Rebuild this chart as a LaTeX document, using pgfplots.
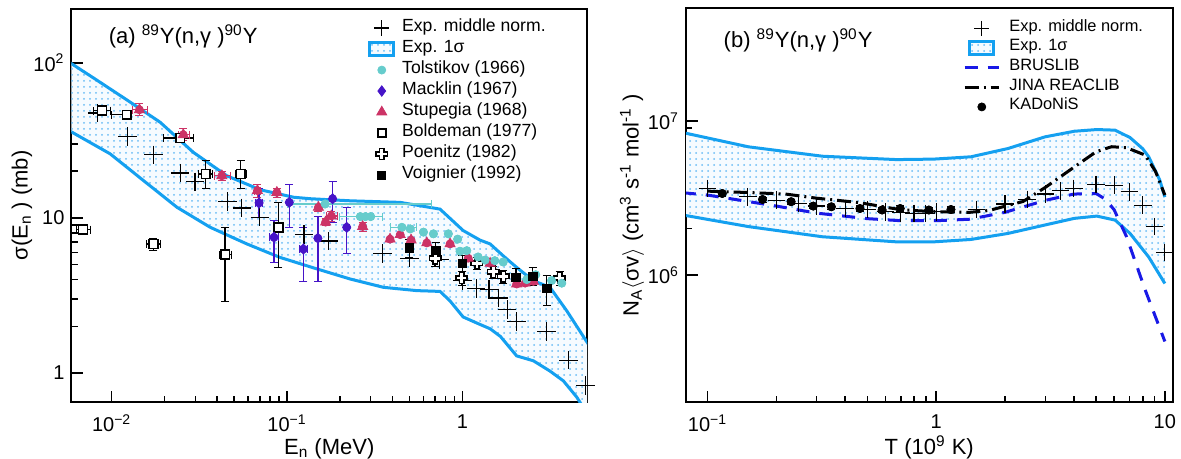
\documentclass[border=0pt]{standalone}
\usepackage{fontspec}
\setmainfont{Liberation Sans}
\usepackage{pgfplots}
\usepackage{pgfplotstable}
\pgfplotsset{compat=1.18}
\usetikzlibrary{patterns}

\definecolor{band}{RGB}{20,160,240}
\definecolor{bandfill}{RGB}{246,251,255}
\definecolor{banddot}{RGB}{105,188,245}
\definecolor{tol}{RGB}{102,204,204}
\definecolor{mac}{RGB}{70,20,200}
\definecolor{stu}{RGB}{204,51,102}
\definecolor{brus}{RGB}{25,25,230}

\pgfdeclareplotmark{ocross}{%
 \pgfpathmoveto{\pgfqpoint{-0.38\pgfplotmarksize}{\pgfplotmarksize}}%
 \pgfpathlineto{\pgfqpoint{0.38\pgfplotmarksize}{\pgfplotmarksize}}%
 \pgfpathlineto{\pgfqpoint{0.38\pgfplotmarksize}{0.38\pgfplotmarksize}}%
 \pgfpathlineto{\pgfqpoint{\pgfplotmarksize}{0.38\pgfplotmarksize}}%
 \pgfpathlineto{\pgfqpoint{\pgfplotmarksize}{-0.38\pgfplotmarksize}}%
 \pgfpathlineto{\pgfqpoint{0.38\pgfplotmarksize}{-0.38\pgfplotmarksize}}%
 \pgfpathlineto{\pgfqpoint{0.38\pgfplotmarksize}{-\pgfplotmarksize}}%
 \pgfpathlineto{\pgfqpoint{-0.38\pgfplotmarksize}{-\pgfplotmarksize}}%
 \pgfpathlineto{\pgfqpoint{-0.38\pgfplotmarksize}{-0.38\pgfplotmarksize}}%
 \pgfpathlineto{\pgfqpoint{-\pgfplotmarksize}{-0.38\pgfplotmarksize}}%
 \pgfpathlineto{\pgfqpoint{-\pgfplotmarksize}{0.38\pgfplotmarksize}}%
 \pgfpathlineto{\pgfqpoint{-0.38\pgfplotmarksize}{0.38\pgfplotmarksize}}%
 \pgfpathclose
 \pgfusepathqfillstroke}

% ---------------- left panel data ----------------
\pgfplotstableread{
x y
0.0055 104
0.0080 79
0.0122 57.7
0.0189 41.4
0.0292 26.5
0.0454 18.7
0.0703 15.2
0.109 13.6
0.136 13.3
0.229 12.9
0.442 12.6
0.746 11.4
1.01 8.3
1.26 7.2
1.44 6.8
1.71 5.7
2.04 4.8
2.54 3.94
3.16 3.57
3.94 2.52
5.3 1.5
}\bandAup
\pgfplotstableread{
x y
0.0055 37.5
0.0098 25.9
0.0152 17.4
0.0236 11.7
0.0365 8.7
0.059 6.8
0.091 5.57
0.143 4.75
0.229 4.04
0.355 3.57
0.55 3.40
0.746 3.36
0.85 2.92
1.01 2.30
1.21 2.10
1.44 1.93
1.65 1.72
2.04 1.29
2.54 1.20
3.16 1.03
3.77 0.89
4.49 0.70
5.3 0.52
}\bandAlo
% closed outline of the band (upper curve, then lower curve reversed)
\pgfplotstableread{
x y
0.0055 104
0.0080 79
0.0122 57.7
0.0189 41.4
0.0292 26.5
0.0454 18.7
0.0703 15.2
0.109 13.6
0.136 13.3
0.229 12.9
0.442 12.6
0.746 11.4
1.01 8.3
1.26 7.2
1.44 6.8
1.71 5.7
2.04 4.8
2.54 3.94
3.16 3.57
3.94 2.52
5.3 1.5
5.3 0.52
4.49 0.70
3.77 0.89
3.16 1.03
2.54 1.20
2.04 1.29
1.65 1.72
1.44 1.93
1.21 2.10
1.01 2.30
0.85 2.92
0.746 3.36
0.55 3.40
0.355 3.57
0.229 4.04
0.143 4.75
0.091 5.57
0.059 6.8
0.0365 8.7
0.0236 11.7
0.0152 17.4
0.0098 25.9
0.0055 37.5
}\bandApoly
\pgfplotstableread{
x y
0.0083 47.5
0.0123 33.5
0.0173 25.5
0.0246 19.5
0.0299 17.1
0.0457 12.8
0.0552 11.6
0.0700 10.1
0.125 7.8
0.172 7.1
0.350 5.9
0.500 5.5
0.742 5.4
1.00 3.95
1.20 3.5
1.42 3.45
1.61 3.05
1.80 2.57
2.04 2.15
3.02 1.85
4.02 1.21
5.05 0.83
}\expA
\pgfplotstableread{
x y exm exp eym eyp
0.165 12.3 0.065 0.505 0 0
0.262 10.2 0.062 0.088 0 0
0.280 10.2 0 0 0 0
0.300 10.2 0 0 0 0
0.452 8.7 0.062 0.098 0 0
0.504 8.5 0 0 0 0
0.600 8.1 0 0 0 0
0.684 7.9 0 0 0 0
0.832 7.9 0 0 0 0
0.940 7.3 0 0 0 0
0.97 6.1 0 0 0 0
1.06 6.15 0 0 0 0
1.23 5.6 0 0 0 0
1.35 5.35 0 0 0 0
1.53 5.3 0 0 0 0
1.71 5.2 0 0 0 0
2.33 4.0 0 0 0 0
2.62 4.3 0 0 0 0
3.23 3.95 0 0 0 0
3.69 3.8 0 0 0 0
}\tolA
\pgfplotstableread{
x y exm exp eym eyp
0.0693 12.5 0.003 0.003 2.4 3.0
0.0843 7.5 0.005 0.005 2.3 2.2
0.103 12.6 0 0 3.9 3.9
0.124 6.3 0.007 0.007 2.4 2.4
0.150 7.4 0 0 3.5 2.9
0.182 13.3 0 0 3.9 3.9
0.219 8.7 0 0 2.8 3.0
}\macA
\pgfplotstableread{
x y exm exp eym eyp
0.0144 49.8 0.0012 0.0015 4 5
0.0256 34.4 0.0015 0.002 3 3.5
0.0425 18.7 0.004 0.005 1.2 1.2
0.0678 15.0 0.003 0.003 1.5 1.5
0.0875 14.6 0.003 0.003 1 1
0.151 11.7 0 0 0.6 0.6
0.166 9.4 0 0 0.5 0.5
0.179 10.3 0.012 0.015 0.8 0.8
0.270 8.8 0 0 0.6 0.6
0.387 7.3 0 0 0 0
0.442 7.8 0 0 0 0
0.51 7.2 0 0 0 0
0.627 6.9 0 0 0 0
0.851 6.8 0 0 0 0
1.08 5.5 0 0 0 0
1.44 5.1 0 0 0 0
2.04 3.75 0 0 0 0
2.28 3.8 0 0 0 0
2.54 3.9 0 0 0 0
}\stuA
\pgfplotstableread{
x y exm exp eym eyp
0.00686 8.4 0.0006 0.0007 0.4 0.4
0.0088 49.2 0.0009 0.001 2.5 2.5
0.0122 46.3 0.0022 0.0005 2.5 2.5
0.0173 6.8 0.0015 0.0016 0.6 0.6
0.0246 32.8 0.0049 0.0046 2 2
0.0344 19.2 0.003 0.003 3.8 4.3
0.0444 5.8 0.0035 0.0035 2.9 2.9
0.0545 19.2 0.004 0.004 3.8 4.3
0.0893 8.7 0.006 0.006 3.9 3.9
}\bolA
\pgfplotstableread{
x y exm exp eym eyp
0.70 5.5 0.03 0.03 0.6 0.6
0.99 4.1 0.03 0.03 0.45 0.45
1.21 5.1 0.03 0.03 0.45 0.45
1.50 4.5 0.03 0.03 0.4 0.4
1.71 4.2 0.03 0.03 0.4 0.4
3.59 4.1 0.05 0.05 0.4 0.4
}\poeA
\pgfplotstableread{
x y exm exp eym eyp
0.499 6.4 0 0 0.8 0.9
0.705 6.2 0 0 0.7 0.8
1.0 5.1 0 0 0.6 0.6
2.02 4.15 0 0 0.55 0.6
2.52 4.2 0 0 0.5 0.6
3.03 3.5 0 0 0.75 0.75
}\voiA

% ---------------- right panel data ----------------
\pgfplotstableread{
x y
0.078 8.4e6
0.151 6.79e6
0.318 5.90e6
0.671 5.61e6
0.975 5.65e6
1.42 5.85e6
2.06 6.62e6
2.99 7.88e6
4.02 8.57e6
5.04 8.79e6
6.06 8.71e6
7.04 7.8e6
8.0 6.6e6
8.5 5.85e6
9.5 4.13e6
10 3.2e6
}\bandBup
\pgfplotstableread{
x y
0.078 2.45e6
0.151 2.06e6
0.318 1.77e6
0.671 1.64e6
0.975 1.64e6
1.42 1.70e6
2.06 1.86e6
2.99 2.11e6
4.02 2.33e6
5.04 2.41e6
6.06 2.27e6
7.04 1.86e6
8.49 1.31e6
10 0.88e6
}\bandBlo
\pgfplotstableread{
x y
0.078 8.4e6
0.151 6.79e6
0.318 5.90e6
0.671 5.61e6
0.975 5.65e6
1.42 5.85e6
2.06 6.62e6
2.99 7.88e6
4.02 8.57e6
5.04 8.79e6
6.06 8.71e6
7.04 7.8e6
8.0 6.6e6
8.5 5.85e6
9.5 4.13e6
10 3.2e6
10 0.88e6
8.49 1.31e6
7.04 1.86e6
6.06 2.27e6
5.04 2.41e6
4.02 2.33e6
2.99 2.11e6
2.06 1.86e6
1.42 1.70e6
0.975 1.64e6
0.671 1.64e6
0.318 1.77e6
0.151 2.06e6
0.078 2.45e6
}\bandBpoly
\pgfplotstableread{
x y
0.1 3.65e6
0.15 3.22e6
0.2 3.06e6
0.25 2.91e6
0.3 2.80e6
0.4 2.70e6
0.5 2.66e6
0.6 2.57e6
0.7 2.53e6
0.8 2.51e6
0.9 2.51e6
1.0 2.57e6
1.5 2.66e6
2 2.89e6
2.5 3.09e6
3 3.35e6
3.5 3.52e6
4 3.65e6
5 3.86e6
6 3.83e6
7 3.47e6
8 2.84e6
9 2.06e6
10 1.40e6
}\expB
\pgfplotstableread{
x y
0.078 3.42e6
0.1 3.3e6
0.15 3.0e6
0.2 2.8e6
0.3 2.52e6
0.5 2.32e6
0.7 2.25e6
1.0 2.25e6
1.4 2.3e6
2.0 2.55e6
3.0 3.05e6
4.0 3.35e6
5.0 3.38e6
5.5 3.1e6
6.0 2.65e6
6.8 1.77e6
8.2 8.0e5
10 3.7e5
}\brusB
\pgfplotstableread{
x y
0.1 3.5e6
0.15 3.43e6
0.22 3.35e6
0.3 3.15e6
0.46 2.95e6
0.7 2.65e6
1.0 2.57e6
1.4 2.55e6
1.7 2.62e6
2.4 3.0e6
3.0 3.7e6
4.0 5.0e6
5.0 6.3e6
5.85 6.8e6
6.8 6.7e6
8.2 6.0e6
9.1 4.7e6
10 3.3e6
}\jinaB
\pgfplotstableread{
x y exm exp eym eyp
0.116 3.38e6 0 0 1.3e5 1.3e5
0.174 3.09e6 0 0 1.2e5 1.2e5
0.232 2.99e6 0 0 1.2e5 1.2e5
0.290 2.80e6 0 0 1.1e5 1.1e5
0.348 2.77e6 0 0 1.1e5 1.1e5
0.464 2.70e6 0 0 1.1e5 1.1e5
0.580 2.64e6 0 0 1.1e5 1.1e5
0.696 2.70e6 0 0 1.1e5 1.1e5
0.928 2.64e6 0 0 1.1e5 1.1e5
1.160 2.66e6 0 0 1.1e5 1.1e5
}\kadB

\begin{document}
\begin{tikzpicture}
% ================= (a) =================
\begin{axis}[xmode=log, ymode=log, scale only axis, height=197pt, width=257.75pt,
  at={(0pt,0pt)}, anchor=south west,
  axis line style={line width=1pt, black},
  tick align=inside, tick pos=left,
  major tick length=6pt, minor tick length=3.2pt,
  tick style={line width=0.8pt, black},
  tick label style={font=\fontsize{10}{12}\selectfont},
  xticklabel style={yshift=-2.5pt},
  legend cell align=left,
  xmin=0.0059, xmax=5.14, ymin=0.646, ymax=224,
  xtick={0.01,0.1,1}, xticklabels={10\textsuperscript{−2},10\textsuperscript{−1},1},
  ytick={1,10,100}, yticklabels={1,10,10\textsuperscript{2}},
  every axis x label/.style={at={(axis description cs:0.5,0)}, anchor=base, yshift=-26pt, font=\fontsize{11}{13}\selectfont},
  every axis y label/.style={at={(axis description cs:-0.096,0.5)}, rotate=90, anchor=center, font=\fontsize{11}{13}\selectfont},
  xlabel={E\textsubscript{n} (MeV)},
  ylabel={σ(E\textsubscript{n} ) (mb)},
  legend style={at={(0.574,0.978)}, anchor=north west, draw=none, fill=none, inner sep=0pt,
    font=\fontsize{8.8}{10}\selectfont, row sep=0pt,
    nodes={inner xsep=3.5pt, inner ysep=0pt, text height=6.8pt, text depth=3.7pt}},
  ]
\addplot[fill=bandfill, draw=none, forget plot, postaction={pattern=dots, pattern color=banddot}] table[x=x,y=y] {\bandApoly};
\addplot[band, line width=1.5pt, forget plot] table[x=x,y=y] {\bandAup};
\addplot[band, line width=1.5pt, forget plot] table[x=x,y=y] {\bandAlo};
\addplot[only marks, mark=+, mark size=4.6pt, black, line width=0.6pt, forget plot] table[x=x,y=y] {\expA};
% error bars
\addplot[only marks, mark=none, forget plot, black, error bars/x dir=both, error bars/x explicit, error bars/y dir=both, error bars/y explicit, error bars/error bar style={line width=0.7pt}] table[x=x,y=y,x error minus=exm,x error plus=exp,y error minus=eym,y error plus=eyp] {\bolA};
\addplot[only marks, mark=none, forget plot, black, error bars/x dir=both, error bars/x explicit, error bars/y dir=both, error bars/y explicit, error bars/error bar style={line width=0.7pt}] table[x=x,y=y,x error minus=exm,x error plus=exp,y error minus=eym,y error plus=eyp] {\poeA};
\addplot[only marks, mark=none, forget plot, black, error bars/x dir=both, error bars/x explicit, error bars/y dir=both, error bars/y explicit, error bars/error bar style={line width=0.7pt}] table[x=x,y=y,x error minus=exm,x error plus=exp,y error minus=eym,y error plus=eyp] {\voiA};
\addplot[only marks, mark=none, forget plot, mac, error bars/x dir=both, error bars/x explicit, error bars/y dir=both, error bars/y explicit, error bars/error bar style={line width=0.7pt}] table[x=x,y=y,x error minus=exm,x error plus=exp,y error minus=eym,y error plus=eyp] {\macA};
\addplot[only marks, mark=none, forget plot, stu, error bars/x dir=both, error bars/x explicit, error bars/y dir=both, error bars/y explicit, error bars/error bar style={line width=0.7pt}] table[x=x,y=y,x error minus=exm,x error plus=exp,y error minus=eym,y error plus=eyp] {\stuA};
\addplot[only marks, mark=none, forget plot, tol, error bars/x dir=both, error bars/x explicit, error bars/y dir=both, error bars/y explicit, error bars/error bar style={line width=0.7pt}] table[x=x,y=y,x error minus=exm,x error plus=exp,y error minus=eym,y error plus=eyp] {\tolA};
% markers
\addplot[only marks, mark=square*, mark size=2.2pt, black, mark options={fill=white, line width=0.8pt}, forget plot] table[x=x,y=y] {\bolA};
\addplot[only marks, mark=ocross, mark size=2.8pt, black, mark options={fill=white, line width=0.8pt}, forget plot] table[x=x,y=y] {\poeA};
\addplot[only marks, mark=diamond*, mark size=2.6pt, mac, forget plot] table[x=x,y=y] {\macA};
\addplot[only marks, mark=triangle*, mark size=2.9pt, stu, forget plot] table[x=x,y=y] {\stuA};
\addplot[only marks, mark=*, mark size=2pt, tol, forget plot] table[x=x,y=y] {\tolA};
\addplot[only marks, mark=square*, mark size=2.1pt, black, forget plot] table[x=x,y=y] {\voiA};
% legend
\addlegendimage{only marks, mark=+, mark size=3.8pt, black, line width=0.6pt}
\addlegendentry{Exp. middle norm.}
\addlegendimage{legend image code/.code={\draw[line width=1.5pt, draw=band, fill=bandfill, postaction={pattern=dots, pattern color=banddot}] (2.3pt,-3.2pt) rectangle (14.5pt,3.2pt);}}
\addlegendentry{Exp. 1σ}
\addlegendimage{only marks, mark=*, mark size=2pt, tol}
\addlegendentry{Tolstikov (1966)}
\addlegendimage{only marks, mark=diamond*, mark size=2.6pt, mac}
\addlegendentry{Macklin (1967)}
\addlegendimage{only marks, mark=triangle*, mark size=2.9pt, stu}
\addlegendentry{Stupegia (1968)}
\addlegendimage{only marks, mark=square*, mark size=2pt, black, mark options={fill=white, line width=0.8pt}}
\addlegendentry{Boldeman (1977)}
\addlegendimage{only marks, mark=ocross, mark size=2.8pt, black, mark options={fill=white, line width=0.8pt}}
\addlegendentry{Poenitz (1982)}
\addlegendimage{only marks, mark=square*, mark size=2pt, black}
\addlegendentry{Voignier (1992)}
\node[anchor=base west, font=\fontsize{11}{13}\selectfont] at (rel axis cs:0.0586,0.912) {(a) \textsuperscript{89}Y(n,γ )\textsuperscript{90}Y};
\end{axis}
% ================= (b) =================
\begin{axis}[xmode=log, ymode=log, scale only axis, height=197pt, width=243.25pt,
  at={(307.25pt,0pt)}, anchor=south west,
  axis line style={line width=1pt, black},
  tick align=inside, tick pos=left,
  major tick length=6pt, minor tick length=3.2pt,
  tick style={line width=0.8pt, black},
  tick label style={font=\fontsize{10}{12}\selectfont},
  xticklabel style={yshift=-2.5pt},
  legend cell align=left,
  xmin=0.0805, xmax=10.8, ymin=1.486e5, ymax=5.37e7,
  xtick={0.1,1,10}, xticklabels={10\textsuperscript{−1},1,10},
  ytick={1e6,1e7}, yticklabels={10\textsuperscript{6},10\textsuperscript{7}},
  every axis x label/.style={at={(axis description cs:0.5,0)}, anchor=base, yshift=-26pt, font=\fontsize{11}{13}\selectfont},
  every axis y label/.style={at={(axis description cs:-0.111,0.5)}, rotate=90, anchor=center, font=\fontsize{11}{13}\selectfont},
  xlabel={T (10\textsuperscript{9} K)},
  ylabel={N\textsubscript{A}$\langle$σv$\rangle$ (cm\textsuperscript{3} s\textsuperscript{-1} mol\textsuperscript{-1} )},
  legend style={at={(0.569,0.975)}, anchor=north west, draw=none, fill=none, inner sep=0pt,
    font=\fontsize{8.2}{9.5}\selectfont, row sep=0pt,
    nodes={inner xsep=4.5pt, inner ysep=0pt, text height=6.3pt, text depth=3.5pt}},
  ]
\addplot[fill=bandfill, draw=none, forget plot, postaction={pattern=dots, pattern color=banddot}] table[x=x,y=y] {\bandBpoly};
\addplot[band, line width=1.5pt, forget plot] table[x=x,y=y] {\bandBup};
\addplot[band, line width=1.5pt, forget plot] table[x=x,y=y] {\bandBlo};
\addplot[brus, line width=1.5pt, dash pattern=on 6.5pt off 5pt, forget plot] table[x=x,y=y] {\brusB};
\addplot[black, line width=1.5pt, dash pattern=on 7pt off 2.5pt on 1pt off 2.5pt, forget plot] table[x=x,y=y] {\jinaB};
\addplot[only marks, mark=+, mark size=4.4pt, black, line width=0.6pt, forget plot] table[x=x,y=y] {\expB};
\addplot[only marks, mark=none, forget plot, black, error bars/y dir=both, error bars/y explicit, error bars/error bar style={line width=0.7pt}] table[x=x,y=y,y error minus=eym,y error plus=eyp] {\kadB};
\addplot[only marks, mark=*, mark size=2pt, black, forget plot] table[x=x,y=y] {\kadB};
\addlegendimage{only marks, mark=+, mark size=3.8pt, black, line width=0.6pt}
\addlegendentry{Exp. middle norm.}
\addlegendimage{legend image code/.code={\draw[line width=1.5pt, draw=band, fill=bandfill, postaction={pattern=dots, pattern color=banddot}] (2.3pt,-3.2pt) rectangle (14.5pt,3.2pt);}}
\addlegendentry{Exp. 1σ}
\addlegendimage{brus, line width=1.5pt, dash pattern=on 6.5pt off 5pt}
\addlegendentry{BRUSLIB}
\addlegendimage{black, line width=1.5pt, dash pattern=on 7pt off 2.5pt on 1pt off 2.5pt}
\addlegendentry{JINA REACLIB}
\addlegendimage{only marks, mark=*, mark size=2pt, black}
\addlegendentry{KADoNiS}
\node[anchor=base west, font=\fontsize{11}{13}\selectfont] at (rel axis cs:0.063,0.90) {(b) \textsuperscript{89}Y(n,γ )\textsuperscript{90}Y};
\end{axis}
\pgfresetboundingbox
\path (-35.75pt,-28.25pt) rectangle (554.75pt,201.25pt);
\end{tikzpicture}
\end{document}
